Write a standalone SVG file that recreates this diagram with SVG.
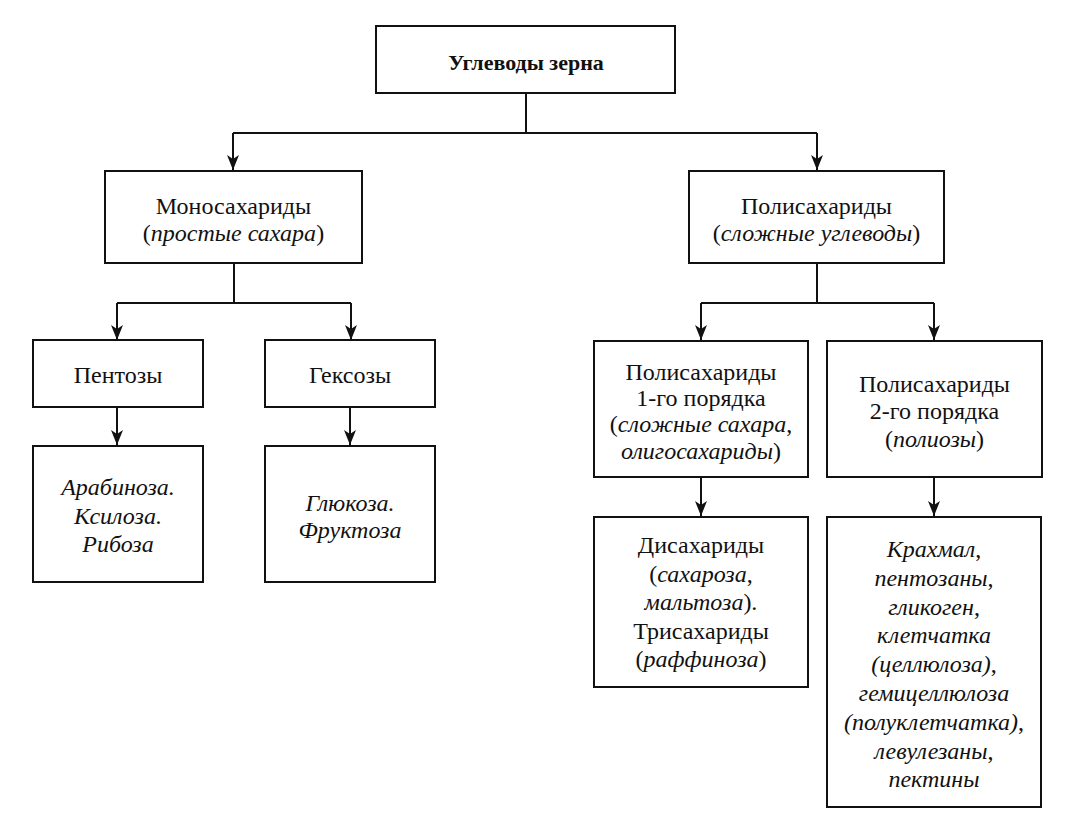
<svg xmlns="http://www.w3.org/2000/svg" width="1078" height="838" viewBox="0 0 1078 838">
<style>
.box{fill:#fff;stroke:#111;stroke-width:2}
text{font-family:'Liberation Serif','Times New Roman','DejaVu Serif',serif;font-size:24px;fill:#111;text-anchor:middle}
.i{font-style:italic}
.b{font-weight:bold;font-size:22px}
.c{fill:none;stroke:#111;stroke-width:2}
</style>
<defs>
<marker id="arr" viewBox="0 0 15 12" refX="15" refY="6" markerWidth="15" markerHeight="12" markerUnits="userSpaceOnUse" orient="auto">
<path d="M0,0 L15,6 L0,12 L4,6 Z" fill="#111"/>
</marker>
</defs>
<g id="connectors">
<polyline class="c" points="526,93 526,133"/>
<polyline class="c" points="233,133 817,133"/>
<polyline class="c" points="233,133 233,170" marker-end="url(#arr)"/>
<polyline class="c" points="817,133 817,170" marker-end="url(#arr)"/>
<polyline class="c" points="234,263 234,303"/>
<polyline class="c" points="117,303 351,303"/>
<polyline class="c" points="117,303 117,340" marker-end="url(#arr)"/>
<polyline class="c" points="351,303 351,340" marker-end="url(#arr)"/>
<polyline class="c" points="817,263 817,303"/>
<polyline class="c" points="701,303 934,303"/>
<polyline class="c" points="701,303 701,340" marker-end="url(#arr)"/>
<polyline class="c" points="934,303 934,340" marker-end="url(#arr)"/>
<polyline class="c" points="117,407 117,445" marker-end="url(#arr)"/>
<polyline class="c" points="350,407 350,445" marker-end="url(#arr)"/>
<polyline class="c" points="701,477 701,516" marker-end="url(#arr)"/>
<polyline class="c" points="934,477 934,516" marker-end="url(#arr)"/>
</g>
<g id="root">
<rect class="box" x="376" y="26" width="299" height="67"/>
<text class="b" x="526" y="70">Углеводы зерна</text>
</g>
<g id="mono">
<rect class="box" x="105" y="171" width="257" height="92"/>
<text x="233.5" y="214">Моносахариды</text>
<text x="233.5" y="241">(<tspan class="i">простые сахара</tspan>)</text>
</g>
<g id="poly">
<rect class="box" x="689" y="171" width="255" height="92"/>
<text x="816.5" y="214">Полисахариды</text>
<text x="816.5" y="241">(<tspan class="i">сложные углеводы</tspan>)</text>
</g>
<g id="pentoses">
<rect class="box" x="33" y="340" width="170" height="67"/>
<text x="118" y="383">Пентозы</text>
</g>
<g id="hexoses">
<rect class="box" x="265" y="340" width="170" height="67"/>
<text x="350" y="383">Гексозы</text>
</g>
<g id="pentose-list">
<rect class="box" x="33" y="446" width="170" height="136"/>
<text class="i" x="118" y="495">Арабиноза.</text>
<text class="i" x="118" y="523.5">Ксилоза.</text>
<text class="i" x="118" y="552">Рибоза</text>
</g>
<g id="hexose-list">
<rect class="box" x="265" y="446" width="170" height="136"/>
<text class="i" x="350" y="511">Глюкоза.</text>
<text class="i" x="350" y="538">Фруктоза</text>
</g>
<g id="poly1">
<rect class="box" x="594" y="341" width="214" height="136"/>
<text x="701" y="380">Полисахариды</text>
<text x="701" y="406">1-го порядка</text>
<text x="701" y="432">(<tspan class="i">сложные сахара</tspan>,</text>
<text x="701" y="459"><tspan class="i">олигосахариды</tspan>)</text>
</g>
<g id="poly2">
<rect class="box" x="827" y="341" width="215" height="136"/>
<text x="934.5" y="392">Полисахариды</text>
<text x="934.5" y="419">2-го порядка</text>
<text x="934.5" y="447">(<tspan class="i">полиозы</tspan>)</text>
</g>
<g id="di-tri">
<rect class="box" x="594" y="517" width="214" height="170"/>
<text x="701" y="553">Дисахариды</text>
<text x="701" y="582">(<tspan class="i">сахароза</tspan>,</text>
<text x="701" y="610"><tspan class="i">мальтоза</tspan>).</text>
<text x="701" y="639">Трисахариды</text>
<text x="701" y="667">(<tspan class="i">раффиноза</tspan>)</text>
</g>
<g id="poly2-list">
<rect class="box" x="827" y="517" width="214" height="290"/>
<text x="934" y="557"><tspan class="i">Крахмал</tspan>,</text>
<text x="934" y="586"><tspan class="i">пентозаны</tspan>,</text>
<text x="934" y="615"><tspan class="i">гликоген</tspan>,</text>
<text class="i" x="934" y="643">клетчатка</text>
<text x="934" y="672"><tspan class="i">(целлюлоза)</tspan>,</text>
<text class="i" x="934" y="701">гемицеллюлоза</text>
<text x="934" y="730"><tspan class="i">(полуклетчатка)</tspan>,</text>
<text x="934" y="759"><tspan class="i">левулезаны</tspan>,</text>
<text class="i" x="934" y="787">пектины</text>
</g>
</svg>
